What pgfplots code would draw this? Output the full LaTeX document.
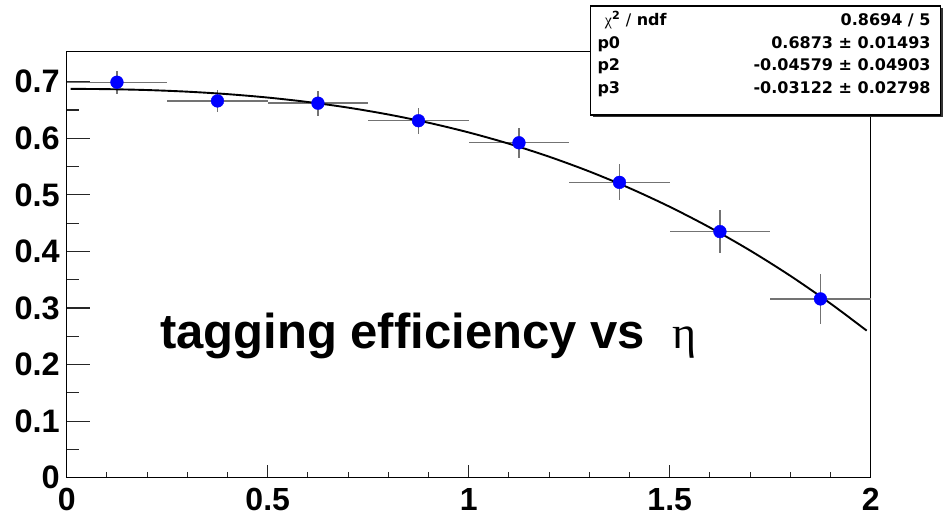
\documentclass[border=0pt]{standalone}
\usepackage{pgfplots}
\pgfplotsset{compat=1.18}
\usepackage{fontspec}
\setmainfont{Liberation Sans}
\newfontfamily\greekfont{Liberation Serif}
\newfontfamily\boxfont{DejaVu Sans}
\definecolor{rootblue}{RGB}{0,0,255}
\pgfplotstableread{
x y ex ey
0.125 0.699 0.125 0.020
0.375 0.666 0.125 0.020
0.625 0.662 0.125 0.022
0.875 0.631 0.125 0.023
1.125 0.592 0.125 0.027
1.375 0.522 0.125 0.032
1.625 0.435 0.125 0.038
1.875 0.316 0.125 0.044
}\effdata
\begin{document}
\begin{tikzpicture}
\path[use as bounding box] (-66.7pt,-38.3pt) rectangle (882.3pt,477.7pt);
\begin{axis}[
  at={(0pt,0pt)}, anchor=south west, scale only axis,
  width=804pt, height=426pt,
  xmin=0, xmax=2, ymin=0, ymax=0.753,
  xtick={0,0.5,1,1.5,2},
  ytick={0,0.1,0.2,0.3,0.4,0.5,0.6,0.7},
  minor x tick num=4, minor y tick num=1,
  tick pos=left, tick align=inside,
  major tick length=23pt, minor tick length=12.7pt,
  xtick style={/pgfplots/major tick length=12.7pt,/pgfplots/minor tick length=6pt},
  tick style={line width=1.1pt, black!85},
  axis line style={line width=1.3pt},
  /pgf/number format/assume math mode=true,
  /pgf/number format/fixed,
  xticklabel style={font=\fontsize{32}{32}\selectfont\bfseries, inner sep=0pt, anchor=north, yshift=-10.3pt},
  yticklabel style={font=\fontsize{32.5}{32.5}\selectfont\bfseries, inner sep=0pt, anchor=east, xshift=-6.7pt},
  clip=false,
]
\addplot[only marks, mark=*, mark size=6.4pt, color=rootblue,
  mark options={fill=rootblue, draw=rootblue},
  error bars/.cd, x dir=both, y dir=both, x explicit, y explicit,
  error mark=none, error bar style={line width=1.4pt, black!55}]
  table[x=x, y=y, x error=ex, y error=ey] {\effdata};
\addplot[black, line width=1.9pt, smooth] coordinates {
(0.01,0.68730) (0.1,0.68681) (0.2,0.68522) (0.3,0.68234) (0.4,0.67798)
(0.5,0.67195) (0.6,0.66407) (0.7,0.65416) (0.8,0.64201) (0.9,0.62745)
(1.0,0.61029) (1.1,0.59034) (1.2,0.56741) (1.3,0.54133) (1.4,0.51188)
(1.5,0.47890) (1.6,0.44220) (1.7,0.40158) (1.8,0.35687) (1.9,0.30786)
(1.99,0.25994)
};
\end{axis}
\fill[black!80] (526pt,360.7pt) rectangle (876pt,469.7pt);
\draw[line width=1.3pt, fill=white] (524pt,362.7pt) rectangle (874pt,471.7pt);
\begin{scope}[every node/.style={inner sep=0pt, font=\fontsize{16}{16}\selectfont\boxfont\bfseries}]
\node[anchor=base west] at (538pt,451.7pt) {{\greekfont\mdseries χ}\textsuperscript{2} {\mdseries /} ndf};
\node[anchor=base east] at (864pt,451.7pt) {0.8694 / 5};
\node[anchor=base west] at (530.6pt,429.4pt) {p0};
\node[anchor=base east] at (864pt,429.4pt) {0.6873 ± 0.01493};
\node[anchor=base west] at (530.6pt,406.7pt) {p2};
\node[anchor=base east] at (864pt,406.7pt) {-0.04579 ± 0.04903};
\node[anchor=base west] at (530.6pt,383.7pt) {p3};
\node[anchor=base east] at (864pt,383.7pt) {-0.03122 ± 0.02798};
\end{scope}
\node[anchor=base west, inner sep=0pt, font=\fontsize{49}{49}\selectfont\bfseries] at (93.3pt,128.7pt) {tagging efficiency vs};
\node[anchor=base west, inner sep=0pt, font=\fontsize{46}{46}\selectfont\greekfont] at (605.3pt,128.7pt) {η};
\end{tikzpicture}
\end{document}
